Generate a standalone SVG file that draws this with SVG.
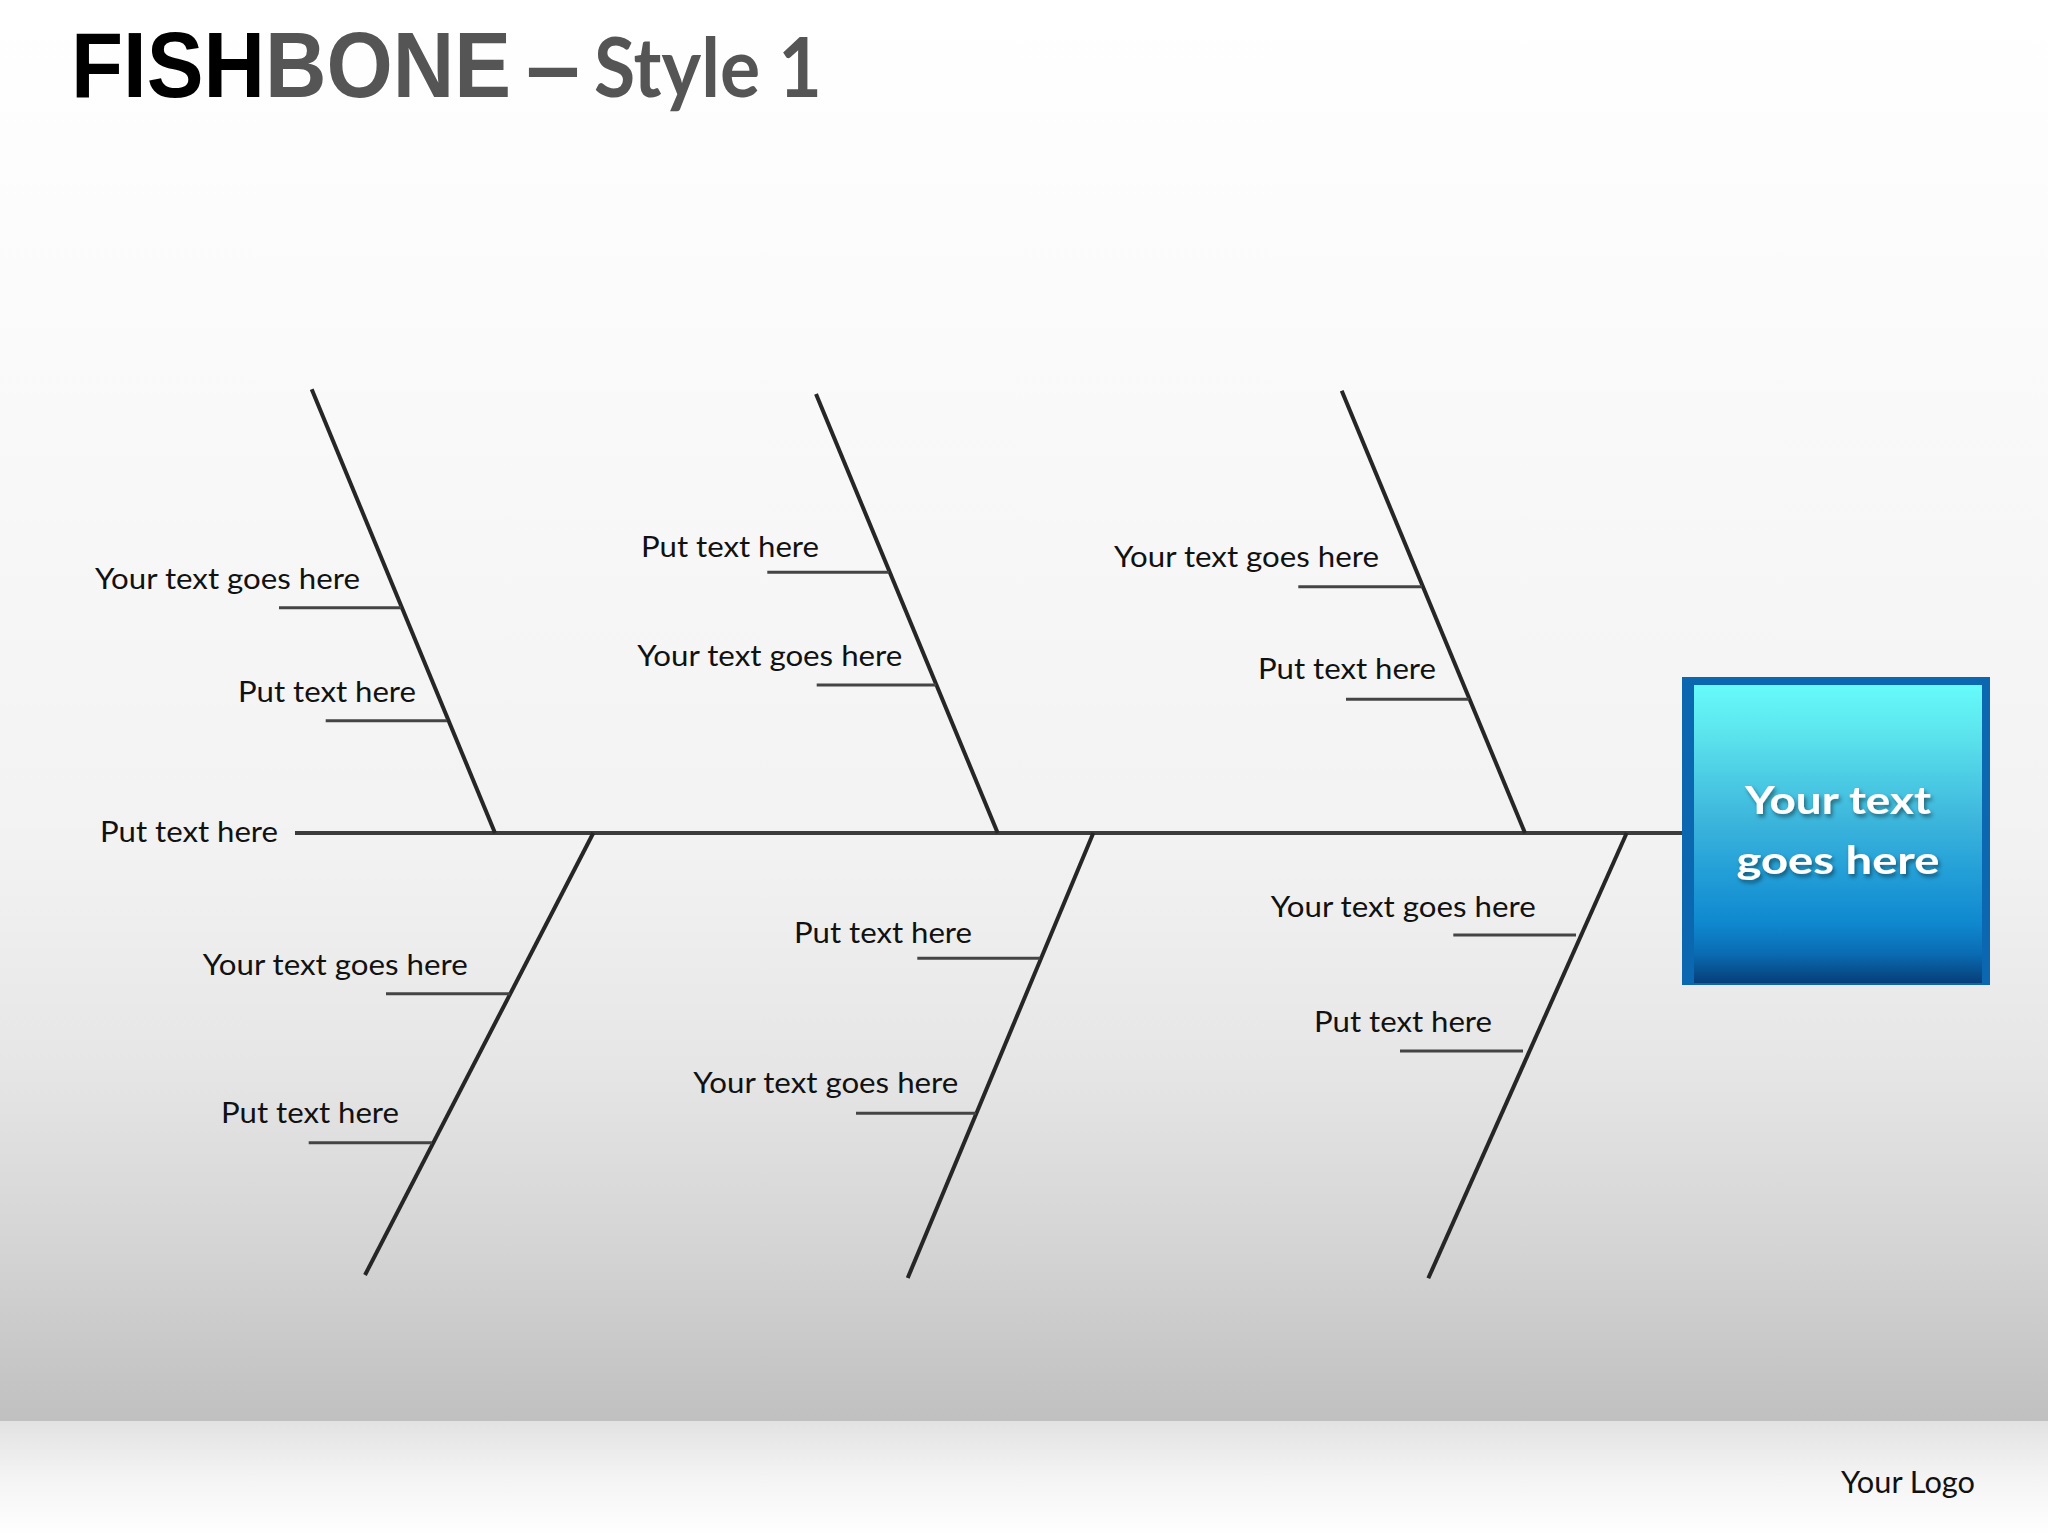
<svg xmlns="http://www.w3.org/2000/svg" width="2048" height="1536" viewBox="0 0 2048 1536">
<defs>
<linearGradient id="bg" x1="0" y1="0" x2="0" y2="1421" gradientUnits="userSpaceOnUse">
<stop offset="0" stop-color="#ffffff"/>
<stop offset="0.25" stop-color="#fafafa"/>
<stop offset="0.6" stop-color="#f2f2f2"/>
<stop offset="0.75" stop-color="#e6e6e6"/>
<stop offset="0.88" stop-color="#d4d4d4"/>
<stop offset="1" stop-color="#c0c0c0"/>
</linearGradient>
<linearGradient id="refl" x1="0" y1="1421" x2="0" y2="1536" gradientUnits="userSpaceOnUse">
<stop offset="0" stop-color="#e2e2e2"/>
<stop offset="0.5" stop-color="#f4f4f4"/>
<stop offset="1" stop-color="#ffffff"/>
</linearGradient>
<linearGradient id="boxg" x1="0" y1="0" x2="0" y2="1">
<stop offset="0" stop-color="#66fbfb"/>
<stop offset="0.15" stop-color="#5de6ee"/>
<stop offset="0.45" stop-color="#3db6dc"/>
<stop offset="0.62" stop-color="#24a0d8"/>
<stop offset="0.8" stop-color="#0f88cf"/>
<stop offset="0.9" stop-color="#0a6cb4"/>
<stop offset="1" stop-color="#063f78"/>
</linearGradient>
<filter id="sh" x="-10%" y="-20%" width="130%" height="150%">
<feDropShadow dx="2" dy="3" stdDeviation="2" flood-color="#000" flood-opacity="0.45"/>
</filter>
<style>
.bone{stroke:#262626;stroke-width:4;fill:none;stroke-linecap:butt}
.spine{stroke:#3c3c3c;stroke-width:4;fill:none}
.sub{stroke:#444444;stroke-width:3;fill:none}
.lbl{font-family:Lato,"Open Sans","Liberation Sans",sans-serif;font-size:29px;fill:#111111}
.boxt{font-family:Lato,"Open Sans","Liberation Sans",sans-serif;font-size:39px;font-weight:bold;fill:#ffffff;text-anchor:middle}
</style>
</defs>
<rect x="0" y="0" width="2048" height="1421" fill="url(#bg)"/>
<rect x="0" y="1421" width="2048" height="115" fill="url(#refl)"/>

<g id="title">
<text x="71" y="97" font-family="'Liberation Sans',Arial,sans-serif" font-weight="bold" font-size="92" textLength="440" lengthAdjust="spacingAndGlyphs"><tspan fill="#000000">FISH</tspan><tspan fill="#555555">BONE</tspan></text>
<text x="526" y="97" font-family="'Liberation Sans',Arial,sans-serif" font-weight="bold" font-size="92" fill="#555555" textLength="54" lengthAdjust="spacingAndGlyphs">–</text>
<text x="594" y="97" font-family="Lato,'Open Sans',sans-serif" font-weight="bold" font-size="82" fill="#555555" textLength="228" lengthAdjust="spacingAndGlyphs">Style 1</text>
</g>

<g id="connectors">
<line class="spine" x1="295" y1="833" x2="1684" y2="833"/>
<line class="bone" x1="311.7" y1="389.3" x2="495" y2="833"/>
<line class="bone" x1="593.3" y1="833" x2="365" y2="1275"/>
<line class="bone" x1="816" y1="394" x2="997.7" y2="833"/>
<line class="bone" x1="1093.3" y1="833" x2="907.7" y2="1278"/>
<line class="bone" x1="1341.7" y1="390.7" x2="1525" y2="833"/>
<line class="bone" x1="1626.7" y1="833" x2="1428.3" y2="1278.3"/>
<line class="sub" x1="279" y1="607.7" x2="401" y2="607.7"/>
<line class="sub" x1="325.7" y1="720.7" x2="447" y2="720.7"/>
<line class="sub" x1="386" y1="993.7" x2="510" y2="993.7"/>
<line class="sub" x1="308.7" y1="1142.7" x2="432" y2="1142.7"/>
<line class="sub" x1="767.3" y1="572.3" x2="889" y2="572.3"/>
<line class="sub" x1="816.7" y1="685" x2="936" y2="685"/>
<line class="sub" x1="917.3" y1="958.3" x2="1040" y2="958.3"/>
<line class="sub" x1="856" y1="1113.3" x2="976" y2="1113.3"/>
<line class="sub" x1="1298.3" y1="586.7" x2="1422" y2="586.7"/>
<line class="sub" x1="1346" y1="699.3" x2="1469" y2="699.3"/>
<line class="sub" x1="1453.3" y1="935" x2="1576" y2="935"/>
<line class="sub" x1="1400" y1="1051" x2="1523" y2="1051"/>
</g>

<g id="bone1-upper">
<text class="lbl" x="95" y="589" textLength="265" lengthAdjust="spacingAndGlyphs">Your text goes here</text>
<text class="lbl" x="238" y="702" textLength="178" lengthAdjust="spacingAndGlyphs">Put text here</text>
</g>
<g id="spine-label">
<text class="lbl" x="100" y="842" textLength="178" lengthAdjust="spacingAndGlyphs">Put text here</text>
</g>
<g id="bone1-lower">
<text class="lbl" x="202.7" y="975" textLength="265" lengthAdjust="spacingAndGlyphs">Your text goes here</text>
<text class="lbl" x="221" y="1123.3" textLength="178" lengthAdjust="spacingAndGlyphs">Put text here</text>
</g>
<g id="bone2-upper">
<text class="lbl" x="641" y="556.7" textLength="178" lengthAdjust="spacingAndGlyphs">Put text here</text>
<text class="lbl" x="637.3" y="666" textLength="265" lengthAdjust="spacingAndGlyphs">Your text goes here</text>
</g>
<g id="bone2-lower">
<text class="lbl" x="794" y="942.7" textLength="178" lengthAdjust="spacingAndGlyphs">Put text here</text>
<text class="lbl" x="693.3" y="1093.3" textLength="265" lengthAdjust="spacingAndGlyphs">Your text goes here</text>
</g>
<g id="bone3-upper">
<text class="lbl" x="1114" y="567.3" textLength="265" lengthAdjust="spacingAndGlyphs">Your text goes here</text>
<text class="lbl" x="1258" y="679.3" textLength="178" lengthAdjust="spacingAndGlyphs">Put text here</text>
</g>
<g id="bone3-lower">
<text class="lbl" x="1270.7" y="916.7" textLength="265" lengthAdjust="spacingAndGlyphs">Your text goes here</text>
<text class="lbl" x="1314" y="1031.7" textLength="178" lengthAdjust="spacingAndGlyphs">Put text here</text>
</g>

<g id="head">
<rect x="1682" y="677" width="308" height="308" fill="#0b67b0"/>
<rect x="1694" y="685" width="288" height="298" fill="url(#boxg)"/>
<g filter="url(#sh)">
<text class="boxt" x="1838" y="814" textLength="186" lengthAdjust="spacingAndGlyphs">Your text</text>
<text class="boxt" x="1838" y="874" textLength="203" lengthAdjust="spacingAndGlyphs">goes here</text>
</g>
</g>

<g id="logo">
<text x="1841" y="1493" font-family="Lato,'Open Sans',sans-serif" font-size="30" fill="#111111" textLength="134" lengthAdjust="spacingAndGlyphs">Your Logo</text>
</g>
</svg>
